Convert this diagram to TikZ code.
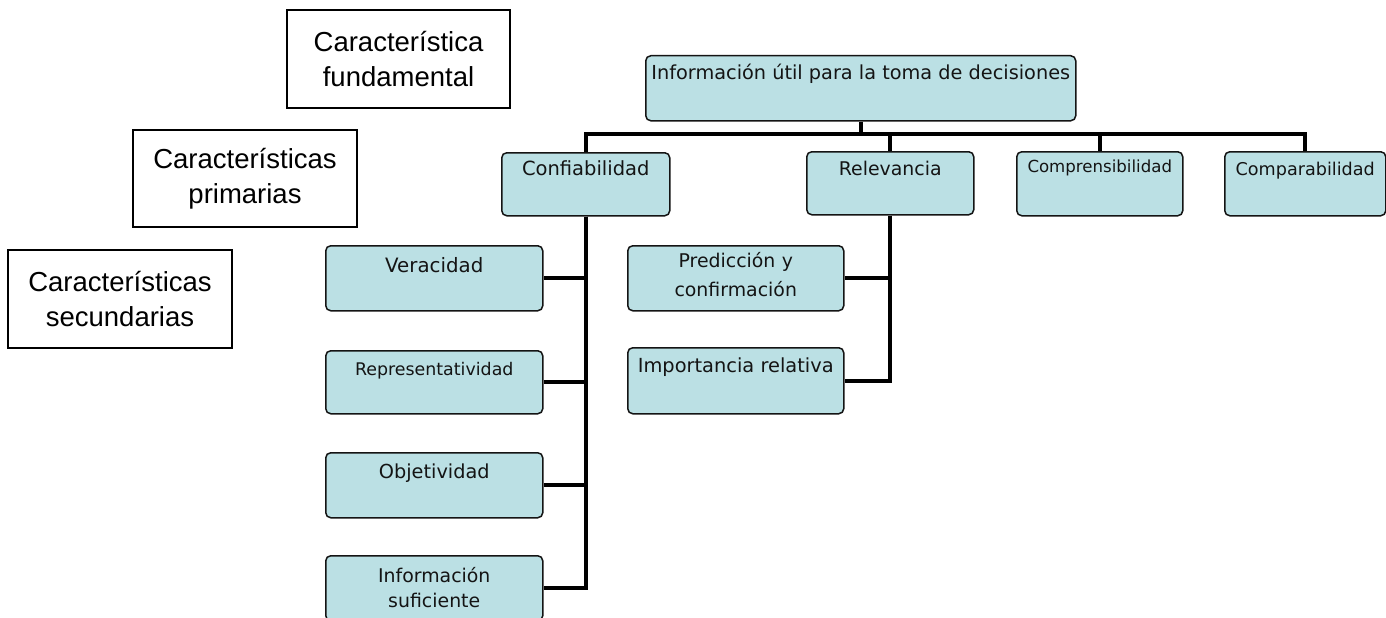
\documentclass[tikz,border=0pt]{standalone}
\usepackage{fontspec}
\newfontfamily\orgfont{DejaVu Sans}
\newfontfamily\tagfont{Liberation Sans}
\definecolor{orgfill}{RGB}{187,224,228}
\definecolor{orgink}{RGB}{20,20,20}
\newcommand\orgsize[1]{\orgfont\fontsize{#1}{28}\selectfont}
\begin{document}
\begin{tikzpicture}[x=1pt,y=-1pt,
  orgbox/.style={draw=orgink, line width=1.5pt, fill=orgfill, rounded corners=5pt,
    inner sep=0pt, anchor=north west},
  orgtext/.style={font=\orgsize{18.9}, text=orgink,
    inner sep=0pt, anchor=base, align=center},
  tagbox/.style={draw=black, line width=1.2pt, fill=white,
    font=\tagfont\fontsize{27.5}{35.5}\selectfont, align=center, inner sep=0pt},
  conn/.style={draw=black, line width=4pt}]
\clip (0,0) rectangle (1386,618);
\fill[white] (0,0) rectangle (1386,618);

% level captions
\node[tagbox, minimum width=223pt, minimum height=98pt] (tagfund) at (398.5,59)
  {Característica\\fundamental};
\node[tagbox, minimum width=224pt, minimum height=97pt] (tagprim) at (245,178.5)
  {Características\\primarias};
\node[tagbox, minimum width=224pt, minimum height=98pt] (tagsec) at (120,299)
  {Características\\secundarias};

% height of the horizontal bus below the root
\coordinate (bus) at (0,134);

% boxes
\node[orgbox, minimum width=430pt, minimum height=65pt] (root) at (645,55) {};
\node[orgbox, minimum width=168pt, minimum height=63pt] (conf) at (501,152) {};
\node[orgbox, minimum width=167pt, minimum height=63pt] (relev) at (806,151) {};
\node[orgbox, minimum width=166pt, minimum height=64pt] (compren) at (1016,151) {};
\node[orgbox, minimum width=161pt, minimum height=64pt] (compar) at (1224,151) {};
\node[orgbox, minimum width=217pt, minimum height=65pt] (ver) at (325,245) {};
\node[orgbox, minimum width=217pt, minimum height=63pt] (rep) at (325,350) {};
\node[orgbox, minimum width=217pt, minimum height=65pt] (obj) at (325,452) {};
\node[orgbox, minimum width=217pt, minimum height=65pt] (inf) at (325,555) {};
\node[orgbox, minimum width=216pt, minimum height=65pt] (pred) at (627,245) {};
\node[orgbox, minimum width=216pt, minimum height=66pt] (imp) at (627,347) {};

% box texts
\node[orgtext, font=\orgsize{19.3}] (root-t) at ([yshift=-24pt]root.north) {Información útil para la toma de decisiones};
\node[orgtext, font=\orgsize{19.5}] (conf-t) at ([yshift=-23pt]conf.north) {Confiabilidad};
\node[orgtext] (relev-t) at ([yshift=-24pt]relev.north) {Relevancia};
\node[orgtext, font=\orgsize{16.6}] (compren-t) at ([yshift=-21pt]compren.north) {Comprensibilidad};
\node[orgtext, font=\orgsize{17.6}] (compar-t) at ([yshift=-24pt]compar.north) {Comparabilidad};
\node[orgtext, font=\orgsize{19.8}] (ver-t) at ([yshift=-27pt]ver.north) {Veracidad};
\node[orgtext, font=\orgsize{17.4}] (rep-t) at ([yshift=-25pt]rep.north) {Representatividad};
\node[orgtext, font=\orgsize{19.3}] (obj-t) at ([yshift=-26pt]obj.north) {Objetividad};
\node[orgtext, text width=200pt, font=\orgfont\fontsize{18.9}{25}\selectfont] (inf-t)
  at ([yshift=-27pt]inf.north) {Información\\suficiente};
\node[orgtext, text width=200pt, font=\orgfont\fontsize{18.9}{29}\selectfont] (pred-t)
  at ([yshift=-22pt]pred.north) {Predicción y\\confirmación};
\node[orgtext, font=\orgsize{19.4}] (imp-t) at ([yshift=-25pt]imp.north) {Importancia relativa};

% tree connectors
\draw[conn] (root.south) -- (root.south |- bus);
\draw[conn] (conf.north) -- (conf.north |- bus) -- (compar.north |- bus) -- (compar.north);
\draw[conn] (relev.north |- bus) -- (relev.north);
\draw[conn] (compren.north |- bus) -- (compren.north);
\draw[conn] (conf.south) |- (ver.east);
\draw[conn] (conf.south) |- (rep.east);
\draw[conn] (conf.south) |- (obj.east);
\draw[conn] (conf.south) |- (inf.east);
\draw[conn] (relev.south) |- (pred.east);
\draw[conn] (relev.south) |- (imp.east);
\end{tikzpicture}
\end{document}
